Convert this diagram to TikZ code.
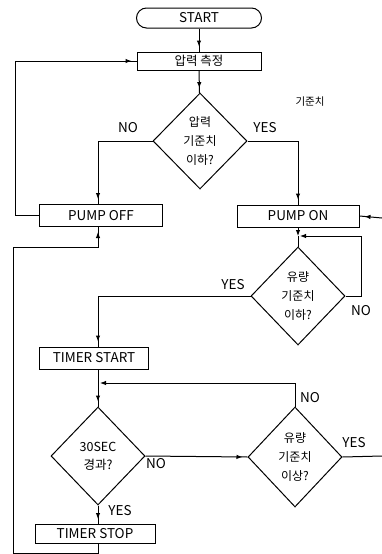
\documentclass[tikz,border=0pt]{standalone}
\usepackage{fontspec}
\setmainfont{Noto Sans CJK KR}
\usetikzlibrary{shapes.geometric,arrows.meta,decorations.markings}
\begin{document}
\begin{tikzpicture}[x=1pt,y=-1pt,line width=1pt,
  >={Latex[length=6pt,width=4.5pt]},
  lat/.style={font=\fontsize{13.5}{15}\selectfont},
  box/.style={draw, rectangle, minimum width=#1, minimum height=22, inner sep=0pt, lat},
  dia/.style={draw, diamond, minimum width=94, minimum height=98, inner sep=0pt, align=center, font=\fontsize{12}{19}\selectfont},
  lab/.style={inner sep=0pt, lat},
  arr/.style={postaction={decorate}, decoration={markings, mark=at position -5pt with {\arrow{>}}}},
  arrend/.style={->}
]
\useasboundingbox (0,0) rectangle (382,554);
% nodes
\node[draw, rectangle, rounded corners=10pt, minimum width=125, minimum height=20, inner sep=0pt, lat] (start) at (199,18) {START};
\node[box=124, minimum height=18, font=\fontsize{12.5}{14}\selectfont] (meas) at (199,61) {압력 측정};
\node[dia, minimum height=96] (d1) at (200,141) {압력\\기준치\\이하?};
\node[box=123] (off) at (101,215.5) {PUMP OFF};
\node[box=122] (on) at (298,216) {PUMP ON};
\node[dia] (d2) at (298,296) {유량\\기준치\\이하?};
\node[box=109] (tstart) at (94,358) {TIMER START};
\node[dia, font=\fontsize{12.5}{18}\selectfont] (d3) at (98,456) {30SEC\\경과?};
\node[dia, minimum height=100] (d4) at (295,457) {유량\\기준치\\이상?};
\node[box=120, minimum height=19] (tstop) at (95,534) {TIMER STOP};
% labels
\node[lab] (n1) at (128,128) {NO};
\node[lab] (y1) at (265,128) {YES};
\node[inner sep=0pt, font=\fontsize{10.5}{12}\selectfont] (kj) at (310,102) {기준치};
\node[lab] (y2) at (233,285) {YES};
\node[lab] (n2) at (361,311) {NO};
\node[lab] (n3) at (310,398) {NO};
\node[lab] (n4) at (156,464) {NO};
\node[lab] (y4) at (354,443) {YES};
\node[lab] (y3) at (120,511) {YES};
% coordinates
\coordinate (c1) at (298,236);
\coordinate (c2) at (98,383);
\coordinate (eR1) at (382,218);
\coordinate (eR2) at (382,456);
\coordinate (lL1) at (15,61);
\coordinate (lL2) at (13,553);
\coordinate (lL3) at (13,247);
% connectors
\draw[arr] (start) -- (meas);
\draw[arr] (meas) -- (d1);
\draw[arr] (d1.west) -| (d3.north |- off.north);
\draw[arr] (d1.east) -| (on.north);
\draw[arr] (off.west) -| (lL1) -- (meas.west);
\draw[arr] (eR1) -- (on.east);
\draw[arrend] (on.south) -- (c1);
\draw (c1) -- (d2.north);
\draw[arrend] (d2.east) -- ++(16,0) |- ([xshift=2pt]c1);
\draw[arr] (d2.west) -| (d3.north |- tstart.north);
\draw (d3.north |- tstart.south) -- (c2);
\draw[arr] (c2) -- (d3.north);
\draw[arrend] (d4.north) |- ([xshift=2pt]c2);
\draw[arr] (d3.east) -- (d4.west);
\draw (d4.east) -- (eR2);
\draw[arr] (d3.south) -- (d3.south |- tstop.north);
\draw (d3.south |- tstop.south) |- (lL2) -- (lL3);
\draw[arr] (lL3) -| (d3.south |- off.south);
\end{tikzpicture}
\end{document}
